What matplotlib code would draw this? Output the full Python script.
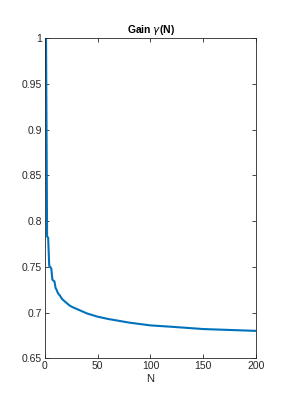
import matplotlib
matplotlib.use("Agg")
import matplotlib.pyplot as plt

# values
n_vals = [1, 2, 3, 4, 5, 6, 7, 8, 9, 10, 11, 12, 13, 14, 15, 16, 17, 18, 20,
          23, 26, 30, 35, 40, 50, 60, 70, 80, 90, 100, 120, 150, 175, 200]
gain = [1.0, 0.783, 0.782, 0.751, 0.750, 0.748, 0.736, 0.735, 0.734, 0.727,
        0.725, 0.722, 0.720, 0.719, 0.717, 0.715, 0.714, 0.713, 0.711,
        0.708, 0.706, 0.704, 0.7015, 0.699, 0.6955, 0.693, 0.691, 0.689,
        0.6875, 0.686, 0.6845, 0.682, 0.681, 0.680]

x_ticks = [0, 50, 100, 150, 200]
y_ticks = [0.65, 0.7, 0.75, 0.8, 0.85, 0.9, 0.95, 1]

plt.rcParams['font.family'] = ['Liberation Sans', 'DejaVu Sans']
plt.rcParams['mathtext.fontset'] = 'dejavusans'

fig = plt.figure(figsize=(2.91, 4.11), dpi=100)
ax = fig.add_axes([0.1546, 0.1282, 0.7251, 0.7786])
ax.plot(n_vals, gain, color='#0072BD', linewidth=1.5)

ax.set_xlim(0, 200)
ax.set_ylim(0.65, 1)
ax.set_xticks(x_ticks)
ax.set_xticklabels([str(v) for v in x_ticks])
ax.set_yticks(y_ticks)
ax.set_yticklabels(['0.65', '0.7', '0.75', '0.8', '0.85', '0.9', '0.95', '1'])

edge = '#262626'
for s in ax.spines.values():
    s.set_color(edge)
    s.set_linewidth(0.6)
ax.tick_params(direction='in', top=True, right=True, length=3, width=0.6,
               colors=edge, labelsize=7.5, pad=2)
ax.set_xlabel('N', fontsize=8, color=edge, labelpad=2)
ax.set_title(r'Gain $\gamma$(N)', fontsize=7.5, fontweight='bold', pad=4)

fig.savefig('out.png', dpi=100)
